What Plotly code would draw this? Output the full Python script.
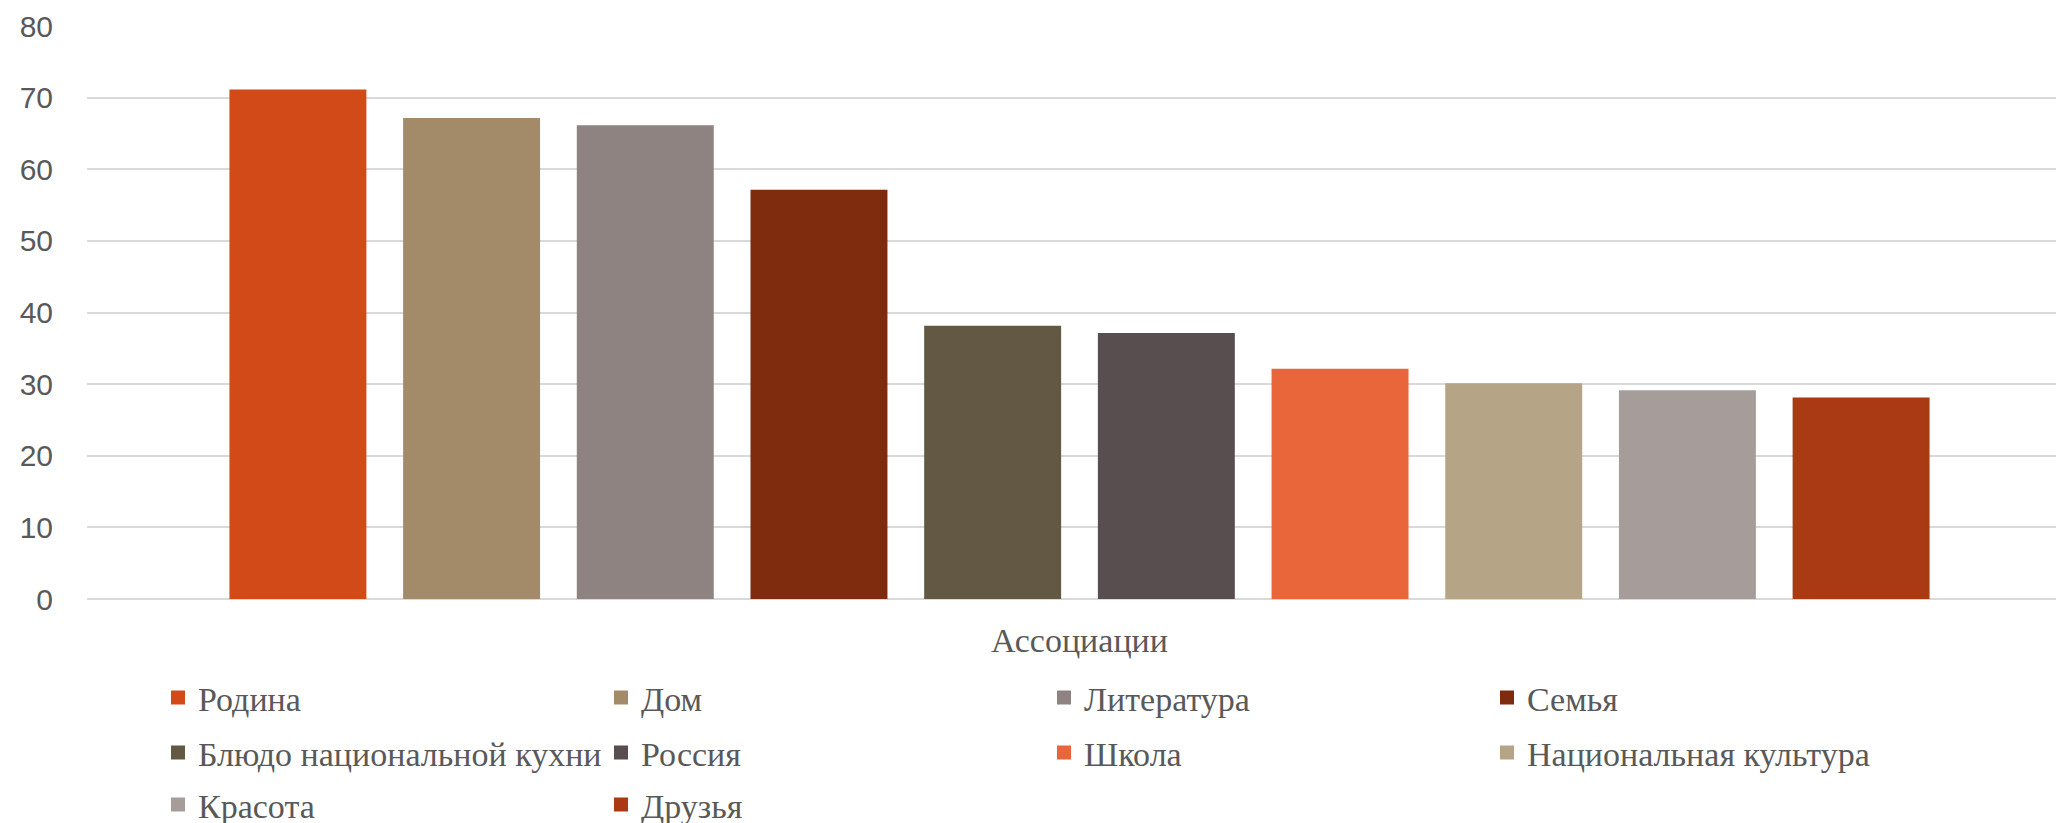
import plotly.graph_objects as go

category = ["Ассоциации"]
series_names = ["Родина", "Дом", "Литература", "Семья", "Блюдо национальной кухни",
                "Россия", "Школа", "Национальная культура", "Красота", "Друзья"]
series_values = [71, 67, 66, 57, 38, 37, 32, 30, 29, 28]
series_colors = ["#D24A17", "#A38B6A", "#8F8381", "#7E2B0E", "#625843",
                 "#584E4F", "#E8663A", "#B5A586", "#A69D9B", "#AA3A13"]
y_ticks = [0, 10, 20, 30, 40, 50, 60, 70, 80]

W, H = 2064, 823
serif = "Liberation Serif"
legend_rows = ["legend", "legend", "legend", "legend",
               "legend2", "legend2", "legend2", "legend2",
               "legend3", "legend3"]
row_centers = {"legend": 690, "legend2": 745, "legend3": 797}

fig = go.Figure()
for name, val, col, lg in zip(series_names, series_values, series_colors, legend_rows):
    fig.add_trace(go.Bar(x=category, y=[val], name=name, legend=lg,
                         marker=dict(color=col, line=dict(width=2, color=col))))

def legend_cfg(key):
    return dict(orientation="h", xref="container", yref="container",
                x=150 / W, y=1 - row_centers[key] / H, xanchor="left", yanchor="middle",
                font=dict(family=serif, size=34, color="#595959"),
                entrywidth=398, entrywidthmode="pixels", itemwidth=30,
                traceorder="normal", bgcolor="rgba(0,0,0,0)")

fig.update_layout(
    width=W, height=H,
    paper_bgcolor="white", plot_bgcolor="white",
    margin=dict(l=79, r=0, t=18, b=232),
    barmode="group", bargap=0.125, bargroupgap=0.223,
    showlegend=True,
    legend=legend_cfg("legend"),
    legend2=legend_cfg("legend2"),
    legend3=legend_cfg("legend3"),
    font=dict(family=serif, color="#595959"),
)
fig.update_yaxes(range=[0, 80], tickvals=y_ticks, showgrid=True, gridcolor="#D9D9D9", gridwidth=2,
                 zeroline=True, zerolinecolor="#D9D9D9", zerolinewidth=2, showline=False,
                 tickfont=dict(family="Liberation Sans", size=30, color="#595959"), ticklabelstandoff=33)
fig.update_xaxes(showgrid=False, showline=False, ticks="",
                 tickfont=dict(family=serif, size=34, color="#595959"), ticklabelstandoff=18)

fig.write_html("out.html")
